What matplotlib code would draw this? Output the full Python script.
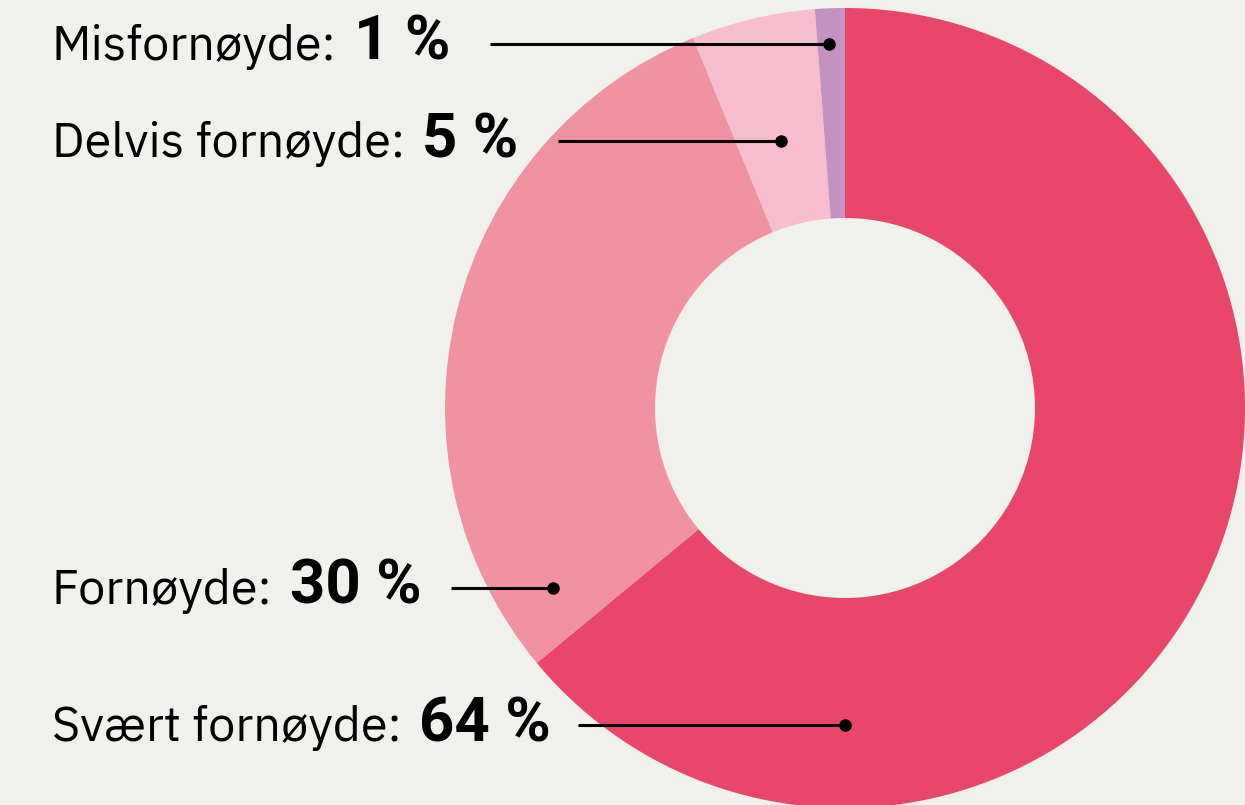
import matplotlib
matplotlib.use("Agg")
import matplotlib.pyplot as plt

# ---- data ----
categories = ["Svært fornøyde", "Fornøyde", "Delvis fornøyde", "Misfornøyde"]
values = [64.0, 29.8, 5.0, 1.2]
value_labels = ["64 %", "30 %", "5 %", "1 %"]

# ---- styling / layout ----
colors = ["#E8476A", "#F0929F", "#F5BDCE", "#C192C2"]
bg = "#F0F0EC"
W, H = 1245, 805
center = (845, H - 408)
outer_r = 400
ring_w = 210
# annotation anchors (pixel coords, y from top)
dot_x = [845, 553, 781, 829]
line_y = [725, 588, 141, 44]
line_x0 = [578, 451, 558, 490]
font = "IBM Plex Sans"
font_bold = "Roboto"
fs = 35
fs_bold = 44.5

fig = plt.figure(figsize=(W / 100, H / 100), dpi=100, facecolor=bg)
ax = fig.add_axes([0, 0, 1, 1])
ax.set_facecolor(bg)

ax.pie(values, colors=colors, startangle=90, counterclock=False,
       center=center, radius=outer_r, frame=True,
       wedgeprops=dict(width=ring_w, linewidth=0))
ax.set_xlim(0, W)
ax.set_ylim(0, H)
ax.set_aspect("equal")
ax.axis("off")

fig.canvas.draw()
renderer = fig.canvas.get_renderer()
inv = ax.transData.inverted()
for cat, vl, dx, ly, lx in zip(categories, value_labels, dot_x, line_y, line_x0):
    y = H - ly
    base = y - 16
    t1 = ax.text(52, base, cat + ":", fontsize=fs, family=font,
                 va="baseline", ha="left", color="black")
    bb = t1.get_window_extent(renderer=renderer)
    x2 = inv.transform((bb.x1, 0))[0] + 17
    t2 = ax.text(x2, base, vl, fontsize=fs_bold, family=font_bold, fontweight="bold",
                 va="baseline", ha="left", color="black")
    bb2 = t2.get_window_extent(renderer=renderer)
    x3 = max(lx, inv.transform((bb2.x1, 0))[0] + 20)
    ax.plot([x3, dx], [y, y], color="black", lw=2.2, solid_capstyle="butt")
    ax.plot([dx], [y], marker="o", color="black", markersize=8)

fig.savefig("out.png", dpi=100, facecolor=bg)
